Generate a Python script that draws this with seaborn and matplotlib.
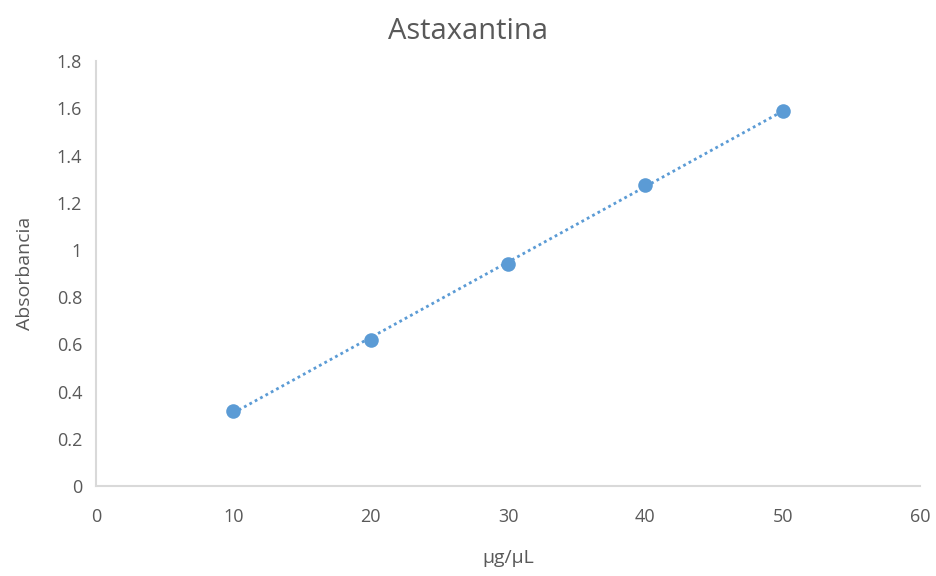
import numpy as np
import pandas as pd
import seaborn as sns
import matplotlib.pyplot as plt

# Datos de la curva de calibración
concentracion = [10, 20, 30, 40, 50]
absorbancia = [0.32, 0.62, 0.94, 1.275, 1.59]
x_ticks = [0, 10, 20, 30, 40, 50, 60]
y_ticks = [0, 0.2, 0.4, 0.6, 0.8, 1.0, 1.2, 1.4, 1.6, 1.8]
y_labels = ["0", "0.2", "0.4", "0.6", "0.8", "1", "1.2", "1.4", "1.6", "1.8"]

df = pd.DataFrame({"conc": concentracion, "abs": absorbancia})

sns.set_style("white")
plt.rcParams["font.family"] = ["Open Sans", "DejaVu Sans"]

azul = "#5B9BD5"
gris = "#595959"

fig = plt.figure(figsize=(9.37, 5.76), dpi=100)
ax = fig.add_axes([0.1025, 0.156, 0.8795, 0.738])

sns.regplot(data=df, x="conc", y="abs", ax=ax, ci=None,
            scatter_kws={"s": 110, "color": azul, "alpha": 1, "zorder": 3, "linewidths": 0},
            line_kws={"color": azul, "linestyle": (0, (1, 1.2)), "linewidth": 2})

ax.set_xlim(0, 60)
ax.set_ylim(0, 1.8)
ax.set_xticks(x_ticks)
ax.set_yticks(y_ticks)
ax.set_yticklabels(y_labels)
ax.tick_params(axis="both", length=0, labelsize=13, colors=gris)
ax.tick_params(axis="x", pad=16)
ax.tick_params(axis="y", pad=10)

for s in ["top", "right"]:
    ax.spines[s].set_visible(False)
for s in ["left", "bottom"]:
    ax.spines[s].set_color("#D9D9D9")
    ax.spines[s].set_linewidth(1.5)

ax.set_xlabel("µg/µL", fontsize=14, color=gris, labelpad=16)
ax.set_ylabel("Absorbancia", fontsize=14, color=gris, labelpad=16)
fig.suptitle("Astaxantina", fontsize=21, color=gris, y=0.97)

fig.savefig("out.png", dpi=100)
